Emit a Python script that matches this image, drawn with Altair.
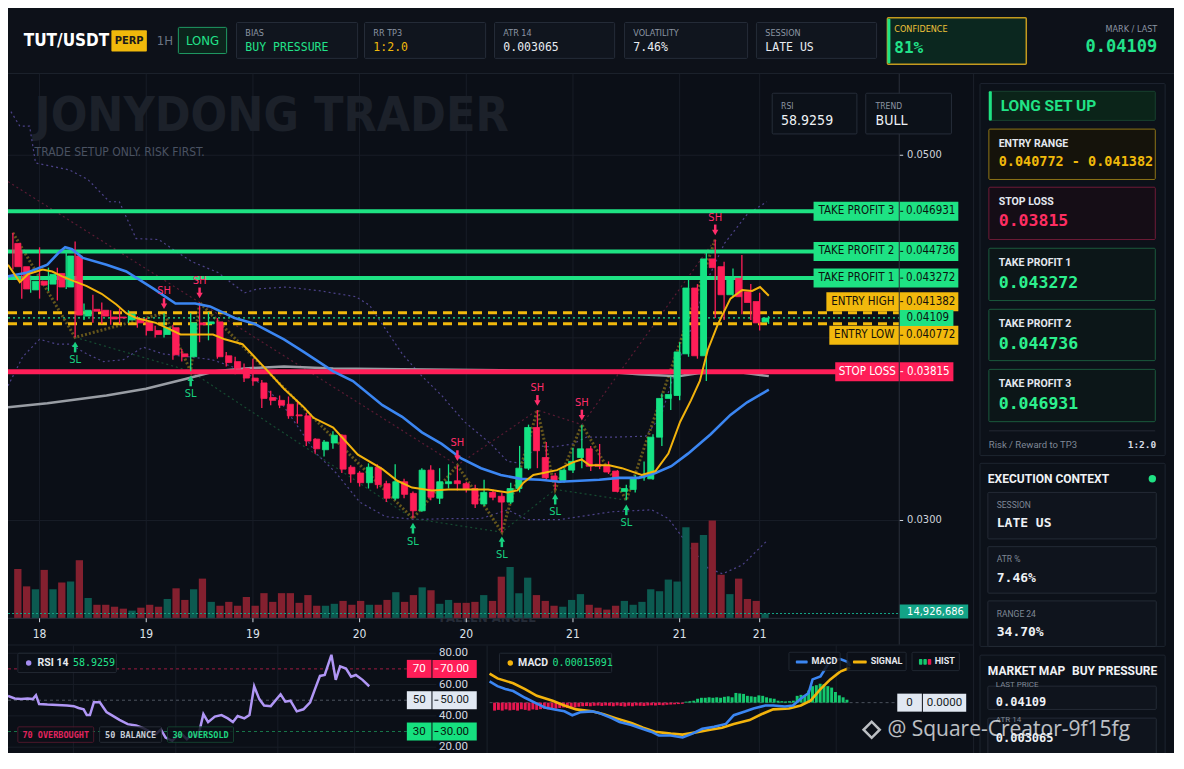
import altair as alt
import pandas as pd

W, H = 1166, 745
SX, SY = W / 1184.0, H / 769.0
def X(v): return round(v * SX, 2)
def Y(v): return round(v * SY, 2)

# ============================ DATA ============================
OPEN = [0.045172,0.043899,0.042626,0.043104,0.042944,0.043528,0.042785,0.044483,0.041194,0.041565,
        0.041512,0.041141,0.041141,0.040982,0.041035,0.040822,0.040398,0.040186,0.040557,0.039125,
        0.038966,0.040822,0.040769,0.040875,0.039019,0.038700,0.038329,0.037799,0.037533,0.036738,
        0.036578,0.036366,0.035783,0.035730,0.034456,0.033873,0.034244,0.034669,0.032918,0.032600,
        0.032069,0.032918,0.032016,0.031220,0.032122,0.031486,0.030531,0.032759,0.031220,0.032016,
        0.032175,0.032016,0.031751,0.030902,0.031539,0.031326,0.031008,0.031751,0.032865,0.035093,
        0.033448,0.032440,0.032175,0.032759,0.033448,0.033926,0.033077,0.033024,0.032706,0.031592,
        0.031698,0.032334,0.032281,0.034562,0.036684,0.036844,0.039125,0.042732,0.039019,0.044324,
        0.043899,0.042361,0.043263,0.042520,0.041989,0.040875]
CLOSE = [0.043899,0.042679,0.043104,0.042891,0.043475,0.042785,0.044483,0.041247,0.041512,0.041459,
         0.041194,0.041035,0.041088,0.041300,0.040822,0.040398,0.040186,0.040557,0.039072,0.038966,
         0.040822,0.040716,0.040875,0.038966,0.038647,0.038329,0.037799,0.037639,0.036684,0.036578,
         0.036313,0.035730,0.035730,0.034350,0.033926,0.034297,0.034669,0.032812,0.032547,0.032069,
         0.032918,0.031963,0.031220,0.032122,0.031433,0.030531,0.032759,0.031273,0.032122,0.032122,
         0.032016,0.031698,0.030902,0.031539,0.031273,0.031008,0.031751,0.032865,0.035093,0.033820,
         0.032334,0.032175,0.032759,0.033236,0.033926,0.032971,0.032971,0.032653,0.031592,0.031751,
         0.032334,0.032387,0.034562,0.036684,0.036897,0.039231,0.042732,0.039019,0.044324,0.043846,
         0.042361,0.043263,0.042255,0.041936,0.040822,0.04109]
HIGH = [0.045756,0.044801,0.043422,0.044960,0.043846,0.043846,0.044695,0.045279,0.041883,0.042361,
        0.041936,0.041512,0.041618,0.041512,0.041194,0.041088,0.040663,0.041353,0.040716,0.039390,
        0.041353,0.041936,0.041406,0.041088,0.039231,0.038966,0.038594,0.038860,0.037692,0.037109,
        0.036844,0.036791,0.036578,0.035889,0.034509,0.034403,0.034881,0.034722,0.033024,0.032706,
        0.033130,0.033077,0.032175,0.033077,0.032281,0.031592,0.032865,0.033024,0.032865,0.033077,
        0.033024,0.032122,0.031963,0.032228,0.031698,0.031539,0.032069,0.034085,0.035249,0.036048,
        0.034297,0.032600,0.032865,0.033979,0.035249,0.034085,0.034191,0.033236,0.032759,0.031963,
        0.032493,0.033236,0.034722,0.036950,0.037905,0.039761,0.043210,0.042944,0.044695,0.045385,
        0.044165,0.043793,0.044536,0.042944,0.042467,0.041194]
LOW = [0.043740,0.042149,0.042467,0.042149,0.042573,0.042043,0.042679,0.040027,0.040982,0.040822,
       0.040769,0.040716,0.040769,0.040822,0.040557,0.040133,0.040027,0.040027,0.038806,0.038700,
       0.038170,0.039761,0.039867,0.038860,0.038435,0.038011,0.037586,0.037374,0.036154,0.036313,
       0.036154,0.035570,0.035305,0.034085,0.033661,0.033501,0.033926,0.032600,0.032069,0.031857,
       0.031751,0.031751,0.031008,0.031114,0.031220,0.030106,0.030478,0.031114,0.030902,0.031751,
       0.031645,0.031539,0.030690,0.030796,0.031114,0.029363,0.030902,0.031539,0.032759,0.032865,
       0.032228,0.031698,0.032069,0.032600,0.032865,0.032706,0.032812,0.032547,0.031539,0.031114,
       0.031539,0.032175,0.032228,0.034085,0.036048,0.036578,0.038966,0.038860,0.037639,0.041088,
       0.040982,0.042255,0.041300,0.040982,0.040398,0.040769]
VOLUME_M = [153,99,90,150,90,111,114,180,63,42, 42,36,30,24,33,42,36,60,93,57,
            90,123,51,39,51,39,66,39,78,51, 78,78,48,72,39,39,45,54,42,54,
            42,42,57,81,51,72,96,87,45,57, 48,48,51,72,54,129,159,78,126,72,
            54,39,36,57,75,42,33,27,39,54, 42,51,90,84,120,114,282,234,258,303,
            135,75,123,60,54,14.926686]
LAST_VOLUME = 14926686

TIME_TICKS = [3, 15, 27, 39, 51, 63, 75, 84]
TIME_LABELS = ["18", "19", "19", "20", "20", "21", "21", "21"]
PRICE_GRID = [0.03, 0.04, 0.05]
PRICE_LABELS = [0.03, 0.05]

EMA_FAST_I = [-0.55,0.78,1.66,3.33,4.43,5.54,6.87,8.31,9.98,11.64,12.75,13.86,16.08,17.74,18.85,21.06,
              22.51,23.84,25.83,27.16,28.49,30.49,32.71,33.81,36.03,38.8,41.57,43.24,44.9,47.12,49.0,
              51.22,53.44,55.65,56.76,57.43,58.54,59.65,61.2,62.97,63.97,64.86,67.07,68.51,70.73,72.28,
              73.73,75.06,76.27,77.27,78.16,79.27,80.71,82.04,83.15,84.04,85.03]
EMA_FAST_P = [0.044005,0.043050,0.043475,0.043740,0.043634,0.043369,0.043104,0.042838,0.042414,0.041830,
              0.041353,0.041088,0.040822,0.040451,0.040186,0.040186,0.040186,0.039920,0.039655,0.038966,
              0.038276,0.037215,0.036207,0.035623,0.035093,0.033608,0.032812,0.032175,0.031804,0.031645,
              0.031698,0.031698,0.031698,0.031539,0.031645,0.032069,0.032493,0.032600,0.032759,0.033183,
              0.033342,0.033024,0.033024,0.032865,0.032493,0.032706,0.033661,0.035411,0.036578,0.037639,
              0.039337,0.040716,0.042149,0.042626,0.042573,0.042785,0.042308]
EMA_SLOW_I = [-0.55,1.66,3.88,5.21,5.88,6.65,7.87,10.53,12.75,15.85,18.29,20.51,22.17,24.94,27.16,30.49,
              32.71,36.03,38.25,41.57,43.79,46.01,48.23,50.44,52.66,54.88,57.10,59.31,61.53,63.75,65.96,
              68.18,70.40,72.28,74.06,75.94,78.49,80.71,82.59,85.03]
EMA_SLOW_P = [0.043369,0.043581,0.044005,0.044695,0.044960,0.044854,0.044377,0.044005,0.043634,0.042679,
              0.041883,0.041883,0.041724,0.041088,0.040769,0.039920,0.039231,0.038170,0.037639,0.036313,
              0.035677,0.034828,0.034191,0.033395,0.032865,0.032493,0.032281,0.032228,0.032122,0.032175,
              0.032228,0.032334,0.032334,0.032600,0.032971,0.033661,0.034722,0.035783,0.036472,0.037162]
SMA_I = [-0.55,3.88,10.53,14.97,19.40,22.73,26.05,30.49,36.03,43.79,54.88,65.96,70.40,74.83,77.05,80.93,85.03]
SMA_P = [0.036207,0.036419,0.036844,0.037215,0.037745,0.038170,0.038329,0.038435,0.038329,0.038276,
         0.038223,0.038170,0.038011,0.037905,0.038064,0.038170,0.037905]
BB_UP_I = [-0.22,0.78,1.88,2.55,6.32,8.43,10.86,11.97,13.86,16.41,18.63,20.18,23.06,26.05,27.49,30.82,
           34.59,38.58,40.13,43.79,46.01,48.23,50.78,53.77,55.65,57.10,58.98,60.75,62.97,64.52,67.41,
           71.18,72.95,74.06,75.94,78.16,80.04,82.59,84.81]
BB_UP_P = [0.052387,0.051592,0.051592,0.049576,0.049204,0.048674,0.047454,0.047454,0.045438,0.045385,
           0.044642,0.044165,0.043581,0.042467,0.042679,0.042785,0.042573,0.042255,0.041777,0.039125,
           0.037905,0.036844,0.035411,0.034191,0.033236,0.033130,0.034085,0.034032,0.034191,0.034562,
           0.034562,0.034616,0.035783,0.037533,0.040027,0.043210,0.045172,0.046764,0.047454]
BB_LO_I = [-0.55,1.11,2.99,4.99,6.43,8.31,10.20,12.42,14.63,16.85,19.73,22.39,24.61,26.83,30.16,34.15,
           36.36,39.02,41.91,45.23,49.00,52.66,55.65,57.87,61.53,65.19,67.41,71.84,73.73,75.61,78.16,
           79.82,82.04,84.81]
BB_LO_P = [0.037374,0.038966,0.039920,0.039655,0.039655,0.039125,0.038700,0.038806,0.039496,0.039125,
           0.038966,0.038806,0.038435,0.037905,0.036472,0.033661,0.032600,0.031008,0.030212,0.030053,
           0.030106,0.030106,0.030584,0.030053,0.030053,0.030318,0.030478,0.030584,0.030106,0.028886,
           0.027401,0.027082,0.027560,0.028886]

SWING_HIGHS = [17, 21, 50, 59, 64, 79]
SWING_LOWS = [7, 20, 45, 55, 61, 69]

LEVEL_NAMES = ["TAKE PROFIT 3", "TAKE PROFIT 2", "TAKE PROFIT 1", "ENTRY HIGH", "ENTRY LOW", "STOP LOSS"]
LEVEL_PRICES = [0.046931, 0.044736, 0.043272, 0.041382, 0.040772, 0.03815]
LAST_PRICE = 0.04109

RSI_T = [0,1.7,3.3,5,6.3,7.1,7.9,10,12.5,15,16.7,17.9,19.2,20,20.8,21.8,23.3,25,26.3,28.3,30.4,32.5,
         34.2,35.8,37.5,38.8,40,41.7,42.9,44.2,45.4,46.7,48.3,49.6,50.8,52.5,54.2,55.8,57.1,58.3,60,
         61.3,62.5,63.8,65,66.7,69.2,70.4,71.7,73.3,75,76.7,77.9,79.2,80.4,82.1,83.2,84.3,85.8,87.1,
         88.3,90,91.7]
RSI_V = [52.8,51.1,50.7,51.1,50.7,53.2,47.6,47.2,47.0,46.6,46.2,45.0,44.2,40.5,40.5,48.7,48.7,42.5,
         40.5,37.4,34.7,33.9,32.3,30.2,28.2,31.3,26.1,24.1,27.2,28.2,25.1,28.2,27.2,41.1,36.0,39.5,
         40.5,38.4,36.0,39.9,38.4,40.5,58.9,50.7,46.6,46.2,53.8,49.1,49.7,42.9,44.2,48.7,56.9,65.5,
         66.1,79.0,63.0,71.6,70.2,65.0,66.1,63.0,58.9259]
RSI_LAST = 58.9259
RSI_TICKS = [80, 60, 40, 20]
RSI_LEVELS = [70, 50, 30]

MACD_T = [0,2,4,6,9,11.5,14,16.5,19,21,23,26,28,31,33,36,38,41,43,46,49,51.5,54,57,60,62,65,67,70,72,
          75,77,79,81,82,84,86,87,89,91,91.5]
MACD_E6 = [88,68,56,48,20,0,-20,-28,-36,-52,-40,-36,-44,-64,-80,-92,-104,-120,-136,-136,-144,-128,
           -108,-100,-88,-52,-36,-24,-12,-12,-16,-12,16,40,96,108,160,176,180,168,151]
SIGNAL_T = [0,2,6,9,12,16,19,22,26,29,32,36,39,42,46,49,52,56,59,62,66,69,72,76,79,81.5,84,86.5,89,91.5]
SIGNAL_E6 = [120,100,80,56,28,8,-12,-28,-36,-48,-64,-84,-104,-120,-128,-132,-124,-112,-104,-88,-72,
             -48,-28,-24,-12,8,56,96,128,144]
HIST_E6 = [-33,-30,-33,-28,-32,-30,-33,-27,-30,-33,-28,-30,-27,
           -25,-28,-24,-25,-22,
           -20,-22,-18,-20,-17,
           -15,-14,-15,-13,-12,-14,-12,-13,-15,-12,-14,-16,-13,
           -15,-12,-13,-14,-12,-11,-12,-10,-11,
           -9,-8,-7,-6,-5,
           4,6,8,
           16,20,20,22,20,22,20,24,26,22,
           40,38,36,
           28,26,24,30,28,22,18,16,
           8,6,5,6,8,
           28,32,30,
           50,68,72,78,76,68,62,44,30,22,12]
MACD_LAST = 0.00015091
BOTTOM_GRID_T = [16.6, 42.6, 68.5, 88.0]

SYMBOL = "TUT/USDT"
HEADER_CARDS = [("BIAS", "BUY PRESSURE"), ("RR TP3", "1:2.0"), ("ATR 14", "0.003065"),
                ("VOLATILITY", "7.46%"), ("SESSION", "LATE US")]
CONFIDENCE = "81%"
RANGE_24 = "34.70%"

# ============================ STYLE ============================
BG = "#0b0f17"
GRID = "#181d27"
AXIS = "#2a303b"
GREEN = "#14e384"
RED = "#ff1e58"
TPG = "#1ee283"
YEL = "#f2b90d"
VGREEN = "#0c5a50"
VRED = "#84202f"
BLUE = "#3b86f2"
EMAY = "#f3b30c"
GRAY = "#a9adb4"
PURPLE = "#4c4289"
ZIG = "#6e5d1c"
TEAL = "#13a387"
DARK = "#0b1410"
NARROW = "'Liberation Sans Narrow', 'DejaVu Sans Condensed', Roboto, sans-serif"
MONO = "'DejaVu Sans Mono', 'Liberation Mono', monospace"
SANS = "Roboto, 'Open Sans', 'Noto Sans', sans-serif"

def fmt_price(p):
    return f"{p:.6f}".rstrip("0")

def dummy():
    return alt.Chart(pd.DataFrame({"d": [0]}))

def rect_layer(rows, corner=0):
    recs = []
    for r in rows:
        recs.append(dict(x=X(r[0]), y=Y(r[1]), x2=X(r[2]), y2=Y(r[3]), fill=r[4],
                         stroke=(r[5] if len(r) > 5 else "transparent"),
                         sw=(r[6] if len(r) > 6 else 1), op=(r[7] if len(r) > 7 else 1)))
    return alt.Chart(pd.DataFrame(recs)).mark_rect(cornerRadius=corner).encode(
        x=alt.X("x:Q", scale=None), x2="x2:Q", y=alt.Y("y:Q", scale=None), y2="y2:Q",
        fill=alt.Fill("fill:N", scale=None), stroke=alt.Stroke("stroke:N", scale=None),
        strokeWidth=alt.StrokeWidth("sw:Q", scale=None), opacity=alt.Opacity("op:Q", scale=None))

def text_layers(rows, opacity=1):
    groups = {}
    for r in rows:
        groups.setdefault((r[5], r[6], r[7]), []).append(r)
    out = []
    for (font, weight, align), rs in groups.items():
        df = pd.DataFrame([dict(x=X(r[0]), y=Y(r[1]), t=r[2], c=r[3], s=r[4]) for r in rs])
        out.append(alt.Chart(df).mark_text(font=font, fontWeight=weight, align=align,
                                           baseline="middle", opacity=opacity).encode(
            x=alt.X("x:Q", scale=None), y=alt.Y("y:Q", scale=None), text="t:N",
            color=alt.Color("c:N", scale=None), size=alt.Size("s:Q", scale=None)))
    return out

L = []

# ============================ BACKGROUND ============================
L.append(rect_layer([
    (0, 0, 1184, 67, "#0d1119"),
    (0, 67, 1184, 68, "#1b212b"),
    (980, 68, 981, 769, "#1b212b"),
    (0, 657, 980, 658, "#1b212b"),
    (486, 658, 487, 769, "#1b212b"),
]))

# ============================ MAIN PRICE PANEL ============================
def price_at(y):
    return 0.05 - (y - 152) * 0.02 / (529 - 152)

XM = alt.Scale(domain=[-0.55, 99.7], range=[X(0), X(905)], nice=False, zero=False)
YM = alt.Scale(domain=[price_at(630), price_at(70)], range=[Y(630), Y(70)], nice=False, zero=False)
VS = alt.Scale(domain=[0, 300], range=[Y(630), Y(530)], nice=False, zero=False)
def xi(f="i:Q"): return alt.X(f, scale=XM, axis=None)
def yp(f="p:Q"): return alt.Y(f, scale=YM, axis=None)

tick_df = pd.DataFrame({"t": TIME_TICKS, "lab": TIME_LABELS})
L.append(alt.Chart(tick_df).mark_rule(color=GRID, strokeWidth=1).encode(
    x=xi("t:Q"), y=alt.value(Y(68)), y2=alt.value(Y(630))))
pg_df = pd.DataFrame({"p": PRICE_GRID})
L.append(alt.Chart(pg_df).mark_rule(color=GRID, strokeWidth=1).encode(
    y=yp(), x=alt.value(X(0)), x2=alt.value(X(905))))
pt_df = pd.DataFrame({"p": PRICE_LABELS, "lab": [f"{p:.4f}" for p in PRICE_LABELS]})

L += text_layers([
    (27, 113, "JONYDONG TRADER", "#1c212a", 48, NARROW, "bold", "left"),
    (27, 149, "TRADE SETUP ONLY. RISK FIRST.", "#4a5262", 12, NARROW, "normal", "left"),
    (487, 630, "FALLEN ANGEL", "#262c38", 13, NARROW, "bold", "center"),
])

# Bollinger-style envelope
bb = pd.concat([pd.DataFrame({"i": BB_UP_I, "p": BB_UP_P, "b": "up"}),
                pd.DataFrame({"i": BB_LO_I, "p": BB_LO_P, "b": "lo"})])
L.append(alt.Chart(bb).mark_line(color=PURPLE, strokeWidth=1.2, strokeDash=[2, 3]).encode(
    x=xi(), y=yp(), detail="b:N"))

# swing-high / swing-low trend lines
sh_i = SWING_HIGHS[1:]
sh_p = [HIGH[k] for k in sh_i]
slope = (sh_p[1] - sh_p[0]) / (sh_i[1] - sh_i[0])
sh_line = pd.DataFrame({"i": [-0.55] + sh_i, "p": [sh_p[0] + slope * (-0.55 - sh_i[0])] + sh_p})
L.append(alt.Chart(sh_line).mark_line(color="#5a1b33", strokeWidth=1.2, strokeDash=[2, 3]).encode(
    x=xi(), y=yp()))
sl_line = pd.DataFrame({"i": SWING_LOWS, "p": [LOW[k] for k in SWING_LOWS]})
L.append(alt.Chart(sl_line).mark_line(color="#164a31", strokeWidth=1.2, strokeDash=[2, 3]).encode(
    x=xi(), y=yp()))

# zigzag of pivots
piv = [(0, HIGH[0])] + [(k, HIGH[k]) for k in SWING_HIGHS] + [(k, LOW[k]) for k in SWING_LOWS]
piv.sort()
zz = pd.DataFrame({"i": [a for a, b in piv], "p": [b for a, b in piv]})
L.append(alt.Chart(zz).mark_line(color=ZIG, strokeWidth=3, strokeDash=[2, 2], opacity=0.9).encode(
    x=xi(), y=yp()))

# candles / volume table
vols = list(VOLUME_M)
vols[-1] = LAST_VOLUME / 1e6
cd = pd.DataFrame({"i": list(range(len(OPEN))), "o": OPEN, "h": HIGH, "l": LOW, "c": CLOSE, "v": vols})
cd["up"] = cd["c"] >= cd["o"]
cd["col"] = [GREEN if u else RED for u in cd["up"]]
cd["vcol"] = [VGREEN if u else VRED for u in cd["up"]]
cd["z"] = 0

L.append(alt.Chart(cd).mark_bar(width=X(7.4)).encode(
    x=xi(), y=alt.Y("v:Q", scale=VS, axis=None), y2="z:Q", color=alt.Color("vcol:N", scale=None)))
L.append(alt.Chart(pd.DataFrame({"v": [LAST_VOLUME / 1e6]})).mark_rule(
    color=TEAL, strokeWidth=1, strokeDash=[2, 2]).encode(
    y=alt.Y("v:Q", scale=VS, axis=None), x=alt.value(X(0)), x2=alt.value(X(905))))

# slow SMA
L.append(alt.Chart(pd.DataFrame({"i": SMA_I, "p": SMA_P})).mark_line(
    color=GRAY, strokeWidth=2.5, opacity=0.9).encode(x=xi(), y=yp()))

# level lines
lv = pd.DataFrame({"name": LEVEL_NAMES, "p": LEVEL_PRICES})
L.append(alt.Chart(lv[lv["name"].str.startswith("TAKE")]).mark_rule(color=TPG, strokeWidth=4).encode(
    y=yp(), x=alt.value(X(0)), x2=alt.value(X(905))))
L.append(alt.Chart(lv[lv["name"].str.startswith("ENTRY")]).mark_rule(
    color=YEL, strokeWidth=3, strokeDash=[9, 6]).encode(y=yp(), x=alt.value(X(0)), x2=alt.value(X(905))))
L.append(alt.Chart(pd.DataFrame({"p": [LAST_PRICE]})).mark_rule(
    color=TPG, strokeWidth=1.2, strokeDash=[2, 3]).encode(y=yp(), x=alt.value(X(0)), x2=alt.value(X(905))))
L.append(alt.Chart(lv[lv["name"] == "STOP LOSS"]).mark_rule(color=RED, strokeWidth=5).encode(
    y=yp(), x=alt.value(X(0)), x2=alt.value(X(905))))

# candles
L.append(alt.Chart(cd).mark_rule(strokeWidth=1.3).encode(
    x=xi(), y=yp("l:Q"), y2="h:Q", color=alt.Color("col:N", scale=None)))
L.append(alt.Chart(cd).mark_bar(width=X(6.2), strokeWidth=0.8).encode(
    x=xi(), y=yp("o:Q"), y2="c:Q", color=alt.Color("col:N", scale=None),
    stroke=alt.Stroke("col:N", scale=None)))

# EMAs
L.append(alt.Chart(pd.DataFrame({"i": EMA_SLOW_I, "p": EMA_SLOW_P})).mark_line(
    color=BLUE, strokeWidth=2.6).encode(x=xi(), y=yp()))
L.append(alt.Chart(pd.DataFrame({"i": EMA_FAST_I, "p": EMA_FAST_P})).mark_line(
    color=EMAY, strokeWidth=2).encode(x=xi(), y=yp()))

# swing markers
shd = pd.DataFrame({"i": SWING_HIGHS, "p": [HIGH[k] for k in SWING_HIGHS]})
sld = pd.DataFrame({"i": SWING_LOWS, "p": [LOW[k] for k in SWING_LOWS]})
SHC, SLC = "#ff2d6a", "#17d07f"
L.append(alt.Chart(shd).mark_rule(color=SHC, strokeWidth=2.5, yOffset=-15, y2Offset=-9).encode(
    x=xi(), y=yp(), y2="p:Q"))
L.append(alt.Chart(shd).mark_point(shape="triangle-down", filled=True, color=SHC, size=40,
                                    opacity=1, yOffset=-7).encode(x=xi(), y=yp()))
L.append(alt.Chart(shd).mark_text(text="SH", color=SHC, font=NARROW, fontSize=11, dy=-22,
                                   baseline="middle").encode(x=xi(), y=yp()))
L.append(alt.Chart(sld).mark_rule(color=SLC, strokeWidth=2.5, yOffset=9, y2Offset=15).encode(
    x=xi(), y=yp(), y2="p:Q"))
L.append(alt.Chart(sld).mark_point(shape="triangle-up", filled=True, color=SLC, size=40,
                                    opacity=1, yOffset=7).encode(x=xi(), y=yp()))
L.append(alt.Chart(sld).mark_text(text="SL", color=SLC, font=NARROW, fontSize=11, dy=23,
                                   baseline="middle").encode(x=xi(), y=yp()))

# price axis labels
L.append(alt.Chart(pt_df).mark_text(font=NARROW, fontSize=11, color="#cfd4dc", align="left",
                                     baseline="middle").encode(y=yp(), x=alt.value(X(913)), text="lab:N"))
L.append(alt.Chart(pt_df).mark_rule(color="#cfd4dc", strokeWidth=1).encode(
    y=yp(), x=alt.value(X(905)), x2=alt.value(X(909))))

# level labels on the price axis
LABEL_STYLE = {
    "TAKE PROFIT 3": (818, 965, 0, TPG, DARK),
    "TAKE PROFIT 2": (818, 965, 0, TPG, DARK),
    "TAKE PROFIT 1": (818, 965, 0, TPG, DARK),
    "ENTRY HIGH": (831, 965, -11, YEL, "#15110a"),
    "ENTRY LOW": (834, 965, 11.5, YEL, "#15110a"),
    "STOP LOSS": (840, 960, 0, RED, "#ffffff"),
}
for name, p in zip(LEVEL_NAMES, LEVEL_PRICES):
    x0, x1, sh, fill, tcol = LABEL_STYLE[name]
    base = alt.Chart(pd.DataFrame({"p": [p], "name": [name], "val": [fmt_price(p)]}))
    L.append(base.mark_rect(color=fill, yOffset=sh - 9.5, y2Offset=sh + 9.5).encode(
        y=yp(), y2="p:Q", x=alt.value(X(x0)), x2=alt.value(X(x1))))
    L.append(base.mark_text(font=NARROW, fontSize=11.5, color=tcol, align="center",
                            baseline="middle", dy=sh).encode(
        y=yp(), x=alt.value(X((x0 + 905) / 2)), text="name:N"))
    L.append(base.mark_text(font=NARROW, fontSize=11.5, color=tcol, align="center",
                            baseline="middle", dy=sh).encode(
        y=yp(), x=alt.value(X((905 + x1) / 2 + 2)), text="val:N"))
    L.append(base.mark_rule(color=tcol, strokeWidth=1, yOffset=sh).encode(
        y=yp(), x=alt.value(X(906)), x2=alt.value(X(909))))
lastb = alt.Chart(pd.DataFrame({"p": [LAST_PRICE], "val": [fmt_price(LAST_PRICE)]}))
L.append(lastb.mark_rect(color=TPG, yOffset=-8, y2Offset=8).encode(
    y=yp(), y2="p:Q", x=alt.value(X(905)), x2=alt.value(X(960))))
L.append(lastb.mark_text(font=NARROW, fontSize=11.5, color=DARK, align="center", baseline="middle").encode(
    y=yp(), x=alt.value(X(934)), text="val:N"))
# last volume badge
vb = alt.Chart(pd.DataFrame({"v": [LAST_VOLUME / 1e6], "lab": [f"{LAST_VOLUME:,}"]}))
L.append(vb.mark_rect(color=TEAL, yOffset=-9, y2Offset=5).encode(
    y=alt.Y("v:Q", scale=VS, axis=None), y2="v:Q", x=alt.value(X(905)), x2=alt.value(X(975))))
L.append(vb.mark_text(font=NARROW, fontSize=11, color="#ffffff", align="left", baseline="middle", dy=-2).encode(
    y=alt.Y("v:Q", scale=VS, axis=None), x=alt.value(X(913)), text="lab:N"))

# axes
L.append(dummy().mark_rule(color=AXIS, strokeWidth=1).encode(
    x=alt.value(X(905)), y=alt.value(Y(68)), y2=alt.value(Y(657))))
L.append(dummy().mark_rule(color=AXIS, strokeWidth=1).encode(
    y=alt.value(Y(630)), x=alt.value(X(0)), x2=alt.value(X(905))))
L.append(alt.Chart(tick_df).mark_rule(color="#cfd4dc", strokeWidth=1).encode(
    x=xi("t:Q"), y=alt.value(Y(630)), y2=alt.value(Y(634))))
L.append(alt.Chart(tick_df).mark_text(font=NARROW, fontSize=12, color="#dde2ea", baseline="middle").encode(
    x=xi("t:Q"), y=alt.value(Y(646)), text="lab:N"))

# ============================ RSI PANEL ============================
def rsi_at(y):
    return 80 - (y - 666) * 60.0 / (763 - 666)
RS = alt.Scale(domain=[rsi_at(769), rsi_at(657)], range=[Y(769), Y(657)], nice=False, zero=False)
RT = alt.Scale(domain=[0, 92], range=[X(0), X(368)], nice=False, zero=False)
gdf = pd.DataFrame({"t": BOTTOM_GRID_T})
L.append(alt.Chart(gdf).mark_rule(color=GRID).encode(
    x=alt.X("t:Q", scale=RT, axis=None), y=alt.value(Y(658)), y2=alt.value(Y(769))))
rt_df = pd.DataFrame({"v": RSI_TICKS, "lab": [f"{v:.2f}" for v in RSI_TICKS]})
L.append(alt.Chart(rt_df).mark_rule(color=GRID).encode(
    y=alt.Y("v:Q", scale=RS, axis=None), x=alt.value(X(0)), x2=alt.value(X(435))))
rl_df = pd.DataFrame({"v": RSI_LEVELS, "lc": ["#9c1b40", "#4d5460", "#18764a"],
                      "bf": [RED, "#e1e8f2", "#16e07f"], "tc": ["#ffffff", "#161b22", "#06140c"],
                      "a": [str(v) for v in RSI_LEVELS], "b": [f"{v:.2f}" for v in RSI_LEVELS]})
L.append(alt.Chart(rl_df).mark_rule(strokeWidth=1, strokeDash=[3, 3]).encode(
    y=alt.Y("v:Q", scale=RS, axis=None), x=alt.value(X(0)), x2=alt.value(X(405)),
    color=alt.Color("lc:N", scale=None)))
L.append(alt.Chart(pd.DataFrame({"t": RSI_T, "v": RSI_V})).mark_line(color="#b096f5", strokeWidth=2.5).encode(
    x=alt.X("t:Q", scale=RT, axis=None), y=alt.Y("v:Q", scale=RS, axis=None)))
L.append(alt.Chart(rt_df).mark_text(font=SANS, fontSize=11.5, color="#d4d9e1", align="right",
                                     baseline="middle").encode(
    y=alt.Y("v:Q", scale=RS, axis=None), x=alt.value(X(467)), text="lab:N"))
for x0, x1, fld in [(405, 430, "a"), (431, 476, "b")]:
    L.append(alt.Chart(rl_df).mark_rect(yOffset=-9, y2Offset=9).encode(
        y=alt.Y("v:Q", scale=RS, axis=None), y2="v:Q", x=alt.value(X(x0)), x2=alt.value(X(x1)),
        color=alt.Color("bf:N", scale=None)))
    L.append(alt.Chart(rl_df).mark_text(font=SANS, fontSize=11.5, align="center", baseline="middle").encode(
        y=alt.Y("v:Q", scale=RS, axis=None), x=alt.value(X((x0 + x1) / 2)), text=f"{fld}:N",
        color=alt.Color("tc:N", scale=None)))
L.append(alt.Chart(rl_df).mark_rule(strokeWidth=1).encode(
    y=alt.Y("v:Q", scale=RS, axis=None), x=alt.value(X(433)), x2=alt.value(X(437)),
    color=alt.Color("tc:N", scale=None)))

# ============================ MACD PANEL ============================
def macd_at(y):
    return (717 - y) * 4e-6
MS = alt.Scale(domain=[macd_at(769), macd_at(657)], range=[Y(769), Y(657)], nice=False, zero=False)
MT = alt.Scale(domain=[0, 92], range=[X(489), X(857)], nice=False, zero=False)
L.append(alt.Chart(gdf).mark_rule(color=GRID).encode(
    x=alt.X("t:Q", scale=MT, axis=None), y=alt.value(Y(658)), y2=alt.value(Y(769))))
zdf = pd.DataFrame({"v": [0.0], "a": ["0"], "b": ["0.0000"]})
L.append(alt.Chart(zdf).mark_rule(color="#4a515c", strokeWidth=1, strokeDash=[3, 3]).encode(
    y=alt.Y("v:Q", scale=MS, axis=None), x=alt.value(X(489)), x2=alt.value(X(903))))
hd = pd.DataFrame({"t": list(range(len(HIST_E6))), "v": [h * 1e-6 for h in HIST_E6]})
hd["col"] = ["#14c86e" if v > 0 else "#e8164f" for v in hd["v"]]
hd["z"] = 0.0
L.append(alt.Chart(hd).mark_bar(width=X(3)).encode(
    x=alt.X("t:Q", scale=MT, axis=None), y=alt.Y("v:Q", scale=MS, axis=None), y2="z:Q",
    color=alt.Color("col:N", scale=None)))
L.append(alt.Chart(pd.DataFrame({"t": SIGNAL_T, "v": [s * 1e-6 for s in SIGNAL_E6]})).mark_line(
    color=EMAY, strokeWidth=2.6).encode(x=alt.X("t:Q", scale=MT, axis=None), y=alt.Y("v:Q", scale=MS, axis=None)))
L.append(alt.Chart(pd.DataFrame({"t": MACD_T, "v": [m * 1e-6 for m in MACD_E6]})).mark_line(
    color=BLUE, strokeWidth=2.6).encode(x=alt.X("t:Q", scale=MT, axis=None), y=alt.Y("v:Q", scale=MS, axis=None)))
for x0, x1, fld in [(903, 928, "a"), (929, 973, "b")]:
    L.append(alt.Chart(zdf).mark_rect(color="#e1e8f2", yOffset=-9, y2Offset=9).encode(
        y=alt.Y("v:Q", scale=MS, axis=None), y2="v:Q", x=alt.value(X(x0)), x2=alt.value(X(x1))))
    L.append(alt.Chart(zdf).mark_text(font=SANS, fontSize=11.5, color="#161b22", align="center",
                                       baseline="middle").encode(
        y=alt.Y("v:Q", scale=MS, axis=None), x=alt.value(X((x0 + x1) / 2)), text=f"{fld}:N"))

# ============================ UI CARDS ============================
CARD = "#10151e"
CARD_S = "#252c38"
PANEL = "#0c1119"
PANEL_S = "#1e2530"
rects = [
    (105, 23, 141, 45, "#f0b90b"),
    (173, 20, 222, 47, "#0c241c", "#1f9a63"),
]
card_x = [(232, 355), (362, 485), (494, 616), (626, 751), (760, 882)]
for (x0, x1) in card_x:
    rects.append((x0, 15, x1, 52, CARD, CARD_S))
rects += [
    (893, 10, 1034, 58, "#0b271f", "#c49a1e", 1.5),
    (893, 11, 896, 57, TPG),
    (776, 88, 862, 130, PANEL, "#262d39"),
    (871, 88, 958, 130, PANEL, "#262d39"),
    (10, 666, 110, 686, "#0c1018", "#252c37", 1, 0.92),
    (10, 742, 87, 758, BG, "#5b1a30", 1, 0.82),
    (93, 742, 156, 758, BG, "#2c323c", 1, 0.82),
    (162, 742, 229, 758, BG, "#164a33", 1, 0.82),
    (499, 666, 613, 686, "#0c1018", "#252c37", 1, 0.92),
    (793, 665, 845, 684, "#0c1018", "#252c37", 1, 0.85),
    (852, 665, 912, 684, "#0c1018", "#252c37", 1, 0.85),
    (918, 665, 966, 684, "#0c1018", "#252c37", 1, 0.85),
    (800, 673.5, 812, 676.5, BLUE),
    (858, 673.5, 872, 676.5, EMAY),
    (925, 672, 928.5, 678, "#14c86e"),
    (929.5, 672, 933, 678, "#14c86e"),
    (934, 672, 937.5, 678, "#e8164f"),
    (987, 78, 1175, 462, PANEL, PANEL_S),
    (996, 86, 1165, 116, "#0b2419", "#17402e"),
    (996, 86, 999, 116, TPG),
    (996, 125, 1165, 177, "#15130b", "#8d7417"),
    (996, 185, 1165, 239, "#150d16", "#6e1b37"),
    (996, 248, 1165, 302, "#0c1618", "#1b5a3d"),
    (996, 311, 1165, 364, "#0c1618", "#1b5a3d"),
    (996, 373, 1165, 427, "#0c1618", "#1b5a3d"),
    (996, 436, 1165, 437, "#2a313c"),
    (987, 470, 1175, 659, PANEL, PANEL_S),
    (995, 500, 1166, 548, "#0f141d", "#242b36"),
    (995, 556, 1166, 604, "#0f141d", "#242b36"),
    (995, 612, 1166, 659, "#0f141d", "#242b36"),
    (987, 668, 1175, 780, PANEL, PANEL_S),
    (995, 700, 1166, 724, "#0f141d", "#242b36"),
    (995, 733, 1166, 780, "#0f141d", "#242b36"),
]
L.append(rect_layer(rects, corner=1))

dots = pd.DataFrame([
    dict(x=X(1162), y=Y(486), c="#1fe183", s=55),
    dict(x=X(21), y=Y(676), c="#a58cf0", s=30),
    dict(x=X(510), y=Y(676), c=EMAY, s=30),
])
L.append(alt.Chart(dots).mark_circle(opacity=1).encode(
    x=alt.X("x:Q", scale=None), y=alt.Y("y:Q", scale=None),
    color=alt.Color("c:N", scale=None), size=alt.Size("s:Q", scale=None)))

GREY_T = "#8c95a3"
WHITE_T = "#e8ebf0"
texts = [
    (16, 34, SYMBOL, "#ffffff", 17, NARROW, "bold", "left"),
    (123, 34.5, "PERP", "#1b1b1b", 11, NARROW, "bold", "center"),
    (151, 34, "1H", "#6c7584", 13, NARROW, "normal", "left"),
    (197.5, 34, "LONG", "#22e28a", 13, NARROW, "normal", "center"),
    (900, 22, "CONFIDENCE", "#f0c23a", 9, NARROW, "normal", "left"),
    (900, 41, CONFIDENCE, "#22e28a", 16, MONO, "bold", "left"),
    (1167, 22, "MARK / LAST", GREY_T, 9, NARROW, "normal", "right"),
    (1167, 40, fmt_price(LAST_PRICE), "#22e28a", 17, MONO, "bold", "right"),
    (785, 101, "RSI", GREY_T, 8.5, NARROW, "normal", "left"),
    (785, 117, f"{RSI_LAST:.4f}", "#eef1f5", 14, NARROW, "normal", "left"),
    (881, 101, "TREND", GREY_T, 8.5, NARROW, "normal", "left"),
    (881, 117, "BULL", "#eef1f5", 14, NARROW, "normal", "left"),
    (30, 676, "RSI 14", "#e6e9ee", 10.5, SANS, "bold", "left"),
    (66, 676, f"{RSI_LAST:.4f}", "#22e28a", 10, MONO, "normal", "left"),
    (48.5, 750, "70 OVERBOUGHT", "#e0245e", 8.5, MONO, "bold", "center"),
    (124.5, 750, "50 BALANCE", "#c8ced8", 8.5, MONO, "bold", "center"),
    (195.5, 750, "30 OVERSOLD", "#1ed47f", 8.5, MONO, "bold", "center"),
    (518, 676, "MACD", "#e6e9ee", 10.5, SANS, "bold", "left"),
    (553, 676, f"{MACD_LAST:.8f}", "#22e28a", 10, MONO, "normal", "left"),
    (816, 674.5, "MACD", "#e6e9ee", 9, SANS, "bold", "left"),
    (876, 674.5, "SIGNAL", "#e6e9ee", 9, SANS, "bold", "left"),
    (941, 674.5, "HIST", "#e6e9ee", 9, SANS, "bold", "left"),
    (1008, 101, "LONG SET UP", "#21e386", 15.5, SANS, "bold", "left"),
    (1006, 140, "ENTRY RANGE", "#e4e8ef", 10.5, SANS, "bold", "left"),
    (1006, 159, f"{fmt_price(LEVEL_PRICES[4])} - {fmt_price(LEVEL_PRICES[3])}", "#f0b90b", 13.5, MONO, "bold", "left"),
    (1006, 200, "STOP LOSS", "#e4e8ef", 10.5, SANS, "bold", "left"),
    (1006, 220, fmt_price(LEVEL_PRICES[5]), "#ff2d62", 16.5, MONO, "bold", "left"),
    (1006, 263, "TAKE PROFIT 1", "#e4e8ef", 10.5, SANS, "bold", "left"),
    (1006, 284, fmt_price(LEVEL_PRICES[2]), "#2cf08e", 16.5, MONO, "bold", "left"),
    (1006, 326, "TAKE PROFIT 2", "#e4e8ef", 10.5, SANS, "bold", "left"),
    (1006, 347, fmt_price(LEVEL_PRICES[1]), "#2cf08e", 16.5, MONO, "bold", "left"),
    (1006, 388, "TAKE PROFIT 3", "#e4e8ef", 10.5, SANS, "bold", "left"),
    (1006, 409, fmt_price(LEVEL_PRICES[0]), "#2cf08e", 16.5, MONO, "bold", "left"),
    (996, 451, "Risk / Reward to TP3", "#7f8896", 9.5, SANS, "normal", "left"),
    (1166, 451, HEADER_CARDS[1][1], "#d6dbe3", 9.5, MONO, "bold", "right"),
    (995, 486, "EXECUTION CONTEXT", "#f0f2f5", 12, SANS, "bold", "left"),
    (1004, 513, "SESSION", "#7f8896", 8.5, SANS, "normal", "left"),
    (1004, 532, HEADER_CARDS[4][1], "#eef1f5", 13, MONO, "bold", "left"),
    (1004, 569, "ATR %", "#7f8896", 8.5, SANS, "normal", "left"),
    (1004, 588, HEADER_CARDS[3][1], "#eef1f5", 13, MONO, "bold", "left"),
    (1004, 626, "RANGE 24", "#7f8896", 8.5, SANS, "normal", "left"),
    (1004, 644, RANGE_24, "#eef1f5", 13, MONO, "bold", "left"),
    (995, 684, "MARKET MAP", "#f0f2f5", 12, SANS, "bold", "left"),
    (1167, 684, HEADER_CARDS[0][1], "#f0f2f5", 12, SANS, "bold", "right"),
    (1003, 699, "LAST PRICE", "#7f8896", 8, SANS, "normal", "left"),
    (1003, 716, fmt_price(LAST_PRICE), "#eef1f5", 12, MONO, "bold", "left"),
    (1003, 735, "ATR 14", "#7f8896", 8, SANS, "normal", "left"),
    (1003, 753, HEADER_CARDS[2][1], "#eef1f5", 12, MONO, "bold", "left"),
]
value_cols = ["#22e28a", "#f0b90b", WHITE_T, WHITE_T, WHITE_T]
for (x0, x1), (lab, val), vc in zip(card_x, HEADER_CARDS, value_cols):
    texts.append((x0 + 9, 26, lab, GREY_T, 9, NARROW, "normal", "left"))
    texts.append((x0 + 9, 41, val, vc, 11.5, MONO, "normal", "left"))
L += text_layers(texts)

# site watermark
L.append(dummy().mark_point(shape="diamond", filled=False, color="#e9ecef", size=260,
                             strokeWidth=2.5, opacity=0.8).encode(x=alt.value(X(877)), y=alt.value(Y(745))))
L += text_layers([(893, 745, "@ Square-Creator-9f15fg", "#e9ecef", 21, "'Open Sans', sans-serif",
                   "normal", "left")], opacity=0.8)

chart = alt.layer(*L).resolve_scale(x="independent", y="independent").properties(
    width=W, height=H, background=BG, padding=0,
    autosize=alt.AutoSizeParams(type="none"),
).configure_view(strokeWidth=0)

chart.save("out.html", embed_options={"renderer": "svg", "actions": False})
